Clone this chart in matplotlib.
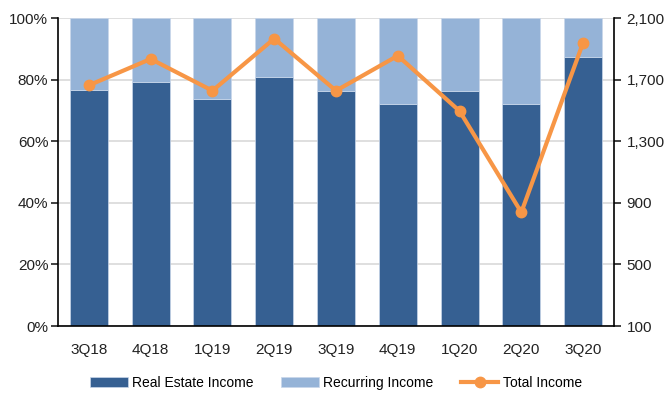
import matplotlib
matplotlib.use("Agg")
import matplotlib.pyplot as plt
from matplotlib.ticker import FuncFormatter
import numpy as np

categories = ["3Q18", "4Q18", "1Q19", "2Q19", "3Q19", "4Q19", "1Q20", "2Q20", "3Q20"]
real_estate_pct = [76.6, 79.1, 73.7, 80.8, 76.2, 72.0, 76.4, 72.0, 87.4]
recurring_pct = [100 - v for v in real_estate_pct]
total_income = [1663, 1834, 1628, 1966, 1628, 1855, 1496, 838, 1940]

plt.rcParams['font.family'] = ['Liberation Sans Narrow', 'Liberation Sans', 'DejaVu Sans']

dark = "#366092"
light = "#95B3D7"
orange = "#F79646"

fig = plt.figure(figsize=(6.72, 3.96), dpi=100)
ax = fig.add_axes([58/672, 1 - 326/396, (614-58)/672, (326-18)/396])
x = np.arange(len(categories))
w = 0.615
b1 = ax.bar(x, real_estate_pct, w, color=dark, edgecolor="#c9d7ea", linewidth=0.5, label="Real Estate Income", zorder=2)
b2 = ax.bar(x, recurring_pct, w, bottom=real_estate_pct, color=light, edgecolor="#c9d7ea", linewidth=0.5, label="Recurring Income", zorder=2)
ax.set_xlim(-0.5, len(categories) - 0.5)
ax.set_ylim(0, 100)
ax.set_yticks(range(0, 101, 20))
ax.yaxis.set_major_formatter(FuncFormatter(lambda v, p: f"{int(v)}%"))
ax.grid(axis="y", color="#d9d9d9", linewidth=1.2, zorder=0)
ax.set_axisbelow(True)
ax.set_xticks(x)
ax.set_xticklabels(categories)
for s in ["top", "right"]:
    ax.spines[s].set_visible(False)
ax.spines["left"].set_linewidth(1.2)
ax.spines["bottom"].set_linewidth(1.2)
ax.tick_params(axis="y", length=5, width=1.2, labelsize=11, pad=2, colors="#222222")
ax.tick_params(axis="x", length=0, labelsize=11, pad=12, colors="#222222")

ax2 = ax.twinx()
ax2.set_ylim(100, 2100)
ax2.set_yticks(range(100, 2101, 400))
ax2.yaxis.set_major_formatter(FuncFormatter(lambda v, p: f"{int(v):,}"))
ln, = ax2.plot(x, total_income, color=orange, linewidth=3, marker="o", markersize=7.5, label="Total Income", zorder=3)
for s in ["top", "left", "bottom"]:
    ax2.spines[s].set_visible(False)
ax2.spines["right"].set_linewidth(1.2)
ax2.tick_params(axis="y", length=5, width=1.2, labelsize=11, pad=4, colors="#222222")

fig.legend(handles=[b1, b2, ln], loc="center", bbox_to_anchor=(0.5, 1 - 383/396), ncol=3,
           frameon=False, fontsize=10, handlelength=2.7, handleheight=0.8, columnspacing=2.0, handletextpad=0.3)

fig.savefig("out.png", dpi=100)
